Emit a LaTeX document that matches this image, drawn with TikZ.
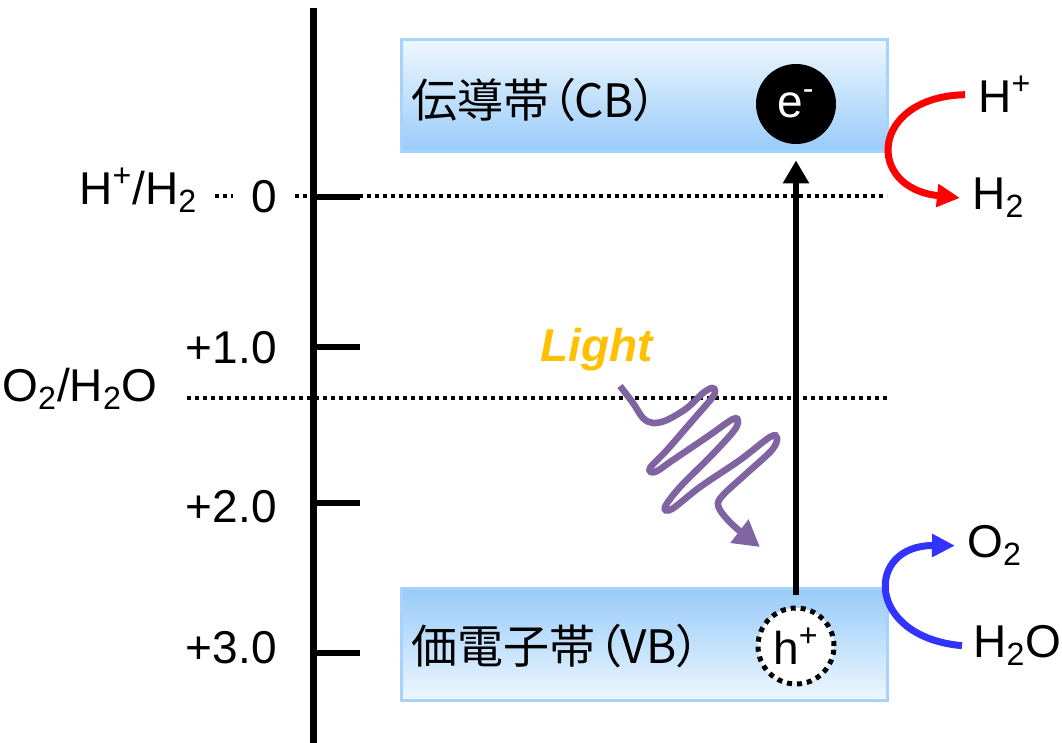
\documentclass[tikz,border=0pt]{standalone}
\usepackage{fontspec}
\setmainfont{Liberation Sans}
\newfontfamily\jpfont{Noto Sans CJK JP}
\newfontfamily\jpparen[RawFeature=+palt]{Noto Sans CJK JP}
\usepackage{xcolor}
\usepackage{tikz}
\usetikzlibrary{arrows.meta,positioning,calc}
\definecolor{bandline}{HTML}{A6D3FB}
\definecolor{bandpale}{HTML}{EEF7FE}
\definecolor{banddeep}{HTML}{98CBF9}
\definecolor{lightgold}{HTML}{FFC000}
\definecolor{photon}{HTML}{8064A2}
\definecolor{hydred}{HTML}{FF0000}
\definecolor{oxyblue}{HTML}{3333FF}
\newcommand{\lvlfont}{\fontsize{23}{27}\selectfont}
\newcommand{\bandname}[2]{{\jpfont #1}\hspace{1pt}{\jpparen （#2）}}
\tikzset{%
  % classes
  band/.style={draw=bandline, line width=1.5pt, minimum width=243pt, minimum height=56pt, inner sep=0pt},
  cband/.style={band, top color=bandpale, bottom color=banddeep},
  vband/.style={band, top color=banddeep, bottom color=bandpale},
  carrier/.style={circle, minimum size=40pt, inner sep=0pt, font=\lvlfont},
  txt/.style={inner sep=0pt, font=\lvlfont},
  % edge styles
  axisline/.style={line width=3.5pt},
  ticker/.style={line width=3pt},
  level/.style={dash pattern=on 2pt off 2pt, line width=2pt},
  excite/.style={-{Triangle[length=11.5pt,width=12.5pt]}, line width=3pt},
  wave/.style={photon, line width=3.3pt, -{Triangle[length=13pt,width=14pt]}},
  hyd/.style={hydred, line width=3.5pt, -{Triangle[length=11.5pt,width=11pt]}},
  oxy/.style={oxyblue, line width=3.5pt, -{Triangle[length=11.5pt,width=11pt]}},
}

\begin{document}
\begin{tikzpicture}[x=0.5pt, y=-0.5pt]
  \useasboundingbox (0,0) rectangle (1062,743);

  % redox levels
  \node[txt, anchor=base west] (hpair) at (79,205) {H\textsuperscript{+}/H\textsubscript{2}};
  \node[txt, anchor=base west] (opair) at (2,402) {O\textsubscript{2}/H\textsubscript{2}O};
  \draw[level] (215,196) -- (887,196);
  \draw[level] (187,398) -- (887,398);

  % potential axis
  \draw[axisline] (313,8) -- (313,743);
  \foreach \ty/\by/\lab in {197/213/0, 347/364/+1.0, 503/523/+2.0, 653/663/+3.0}{
    \draw[ticker] (313,\ty) -- (360,\ty);
    \node[txt, fill=white, inner xsep=9pt, anchor=base east] (lv\ty) at (295,\by) {\lab};
  }

  % bands
  \node[cband] (cb) at (644,96) {};
  \node[vband] (vb) at (644,645) {};
  \node[txt, anchor=west] (cblabel) at (411,100) {\bandname{伝導帯}{CB}};
  \node[txt, anchor=west] (vblabel) at (411,646) {\bandname{価電子帯}{VB}};

  \node[carrier, fill=black, text=white] (el) at (796,104) {e\textsuperscript{-}};
  \node[carrier, minimum size=38pt, fill=white, draw, line width=2.5pt, dash pattern=on 2.5pt off 2.5pt] (ho) at (796,646) {h\textsuperscript{+}};
  \draw[excite, shorten <=5pt, shorten >=8pt] (ho) -- (el);

  % light
  \node[txt, font=\lvlfont\bfseries\itshape, text=lightgold] (light) at (597,350) {Light};
  \draw[wave] plot[smooth, tension=0.55] coordinates {
    (620,386) (633,403) (643,418) (653,423) (667,420) (687,408) (703,393)
    (712,388) (715,391) (712,398) (693,420) (667,450) (650,468) (655,472)
    (673,460) (707,437) (733,419) (738,422) (733,432) (710,457) (680,487)
    (665,507) (672,509) (700,487) (740,460) (770,437) (777,438) (772,450)
    (747,473) (725,493) (718,503) (722,513) (735,527) (760,547)};

  % reactions
  \node[txt, anchor=base west] (hp) at (978,113) {H\textsuperscript{+}};
  \node[txt, anchor=base west] (htwo) at (972,210) {H\textsubscript{2}};
  \draw[hyd] ([xshift=-6.5pt]hp.west) .. controls (870,97) and (865,188) .. ([xshift=-6pt]htwo.west);

  \node[txt, anchor=base west] (otwo) at (967,558) {O\textsubscript{2}};
  \node[txt, anchor=base west] (water) at (973,658) {H\textsubscript{2}O};
  \draw[oxy] ([xshift=-5.5pt]water.west) .. controls (865,637) and (865,545) .. ([xshift=-6pt]otwo.west);

\end{tikzpicture}
\end{document}
